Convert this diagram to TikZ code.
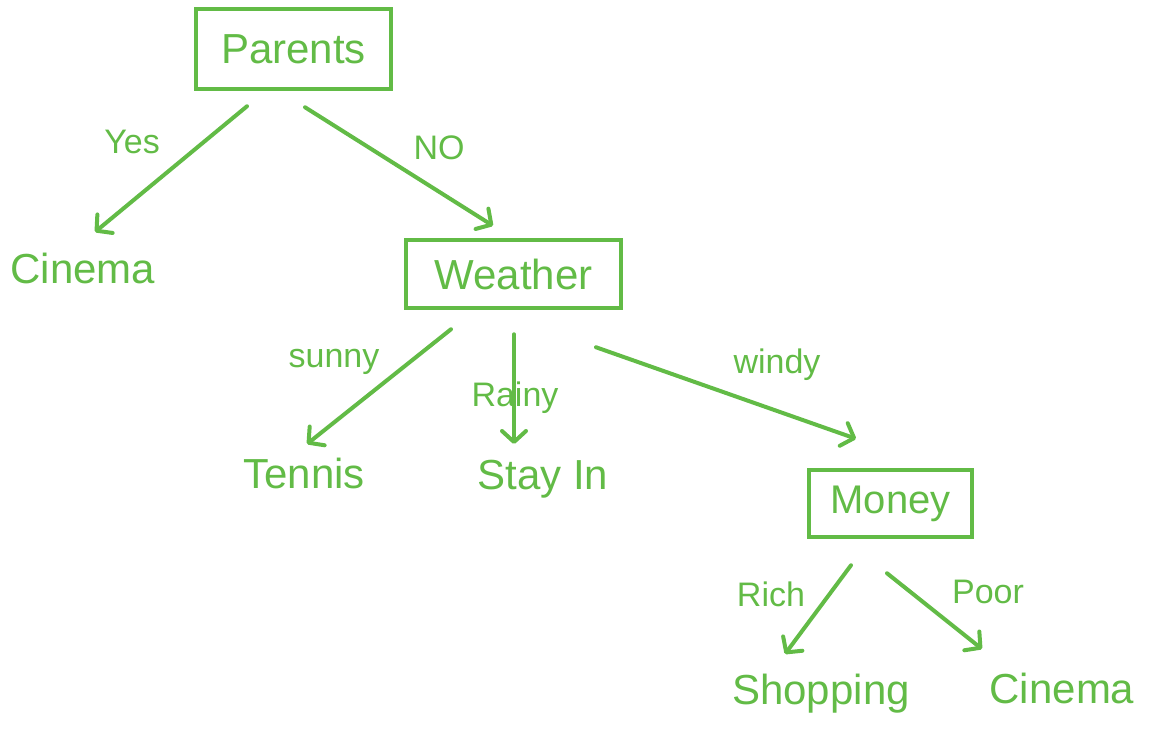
\documentclass[tikz,border=0pt]{standalone}
\usepackage{fontspec}
\setmainfont{Liberation Sans}
\usetikzlibrary{arrows.meta,calc}
\definecolor{hand}{HTML}{62BB46}
\tikzset{
  box/.style={draw=hand, line width=4.5pt, text=hand, inner sep=0pt},
  leaf/.style={text=hand, inner sep=0pt, font=\fontsize{42}{48}\selectfont},
  elabel/.style={text=hand, inner sep=0pt, font=\fontsize{34}{40}\selectfont},
  arr/.style={draw=hand, line width=4pt, line cap=round,
    -{Straight Barb[length=11pt,width=24pt,line width=4pt,round]}},
}
\begin{document}
\begin{tikzpicture}[x=1pt,y=-1pt]
\useasboundingbox (0,0) rectangle (1149,734);
% boxes
\node[box, minimum width=195pt, minimum height=80pt, font=\fontsize{42}{48}\selectfont] (parents) at (293.5,49) {Parents};
\node[box, minimum width=215pt, minimum height=68pt, font=\fontsize{42}{48}\selectfont] (weather) at (513.5,274) {Weather};
\node[box, minimum width=163pt, minimum height=67pt, font=\fontsize{40}{46}\selectfont] (money) at (890.5,503.5) {Money};
% leaves
\node[leaf] (cinema1) at (83,268) {Cinema};
\node[leaf] (tennis) at (304,473) {Tennis};
\node[leaf] (stayin) at (543,479) {Stay In};
\node[leaf] (shopping) at (821,694) {Shopping};
\node[leaf] (cinema2) at (1062,688) {Cinema};
% edge labels
\node[elabel] (lyes) at (132,142) {Yes};
\node[elabel] (lno) at (439,148) {NO};
\node[elabel] (lsunny) at (334,362) {sunny};
\node[elabel] (lrainy) at (515,398) {Rainy};
\node[elabel] (lwindy) at (777,365) {windy};
\node[elabel] (lrich) at (771,594) {Rich};
\node[elabel] (lpoor) at (988,592) {Poor};
% connectors
\draw[arr] ($(parents.south)+(-46.5,15)$) -- ($(cinema1)+(12,-36)$);
\draw[arr] ($(parents.south)+(11.5,16)$) -- ($(weather.north)+(-20.5,-12)$);
\draw[arr] ($(weather.south)+(-62.5,19)$) -- ($(tennis)+(3,-29)$);
\draw[arr] ($(weather.south)+(0.5,24)$) -- ($(stayin)+(-29,-35)$);
\draw[arr] ($(weather.south)+(82.5,37)$) -- ($(money.north)+(-34.5,-29)$);
\draw[arr] ($(money.south)+(-39.5,26)$) -- ($(shopping)+(-36,-40)$);
\draw[arr] ($(money.south)+(-3.5,34)$) -- ($(cinema2)+(-80,-39)$);
\end{tikzpicture}
\end{document}
